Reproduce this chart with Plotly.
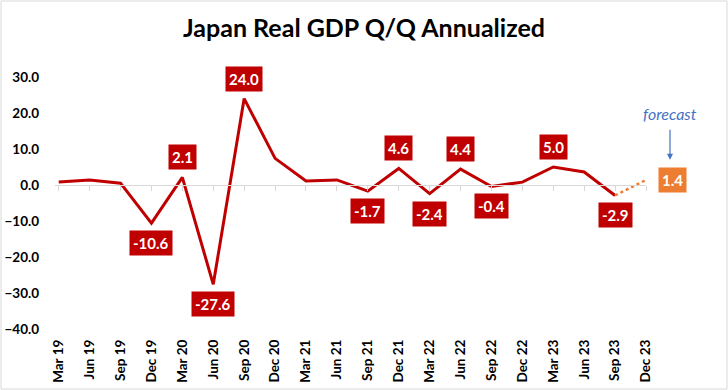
import plotly.graph_objects as go

quarters = ["Mar 19", "Jun 19", "Sep 19", "Dec 19", "Mar 20", "Jun 20", "Sep 20", "Dec 20",
            "Mar 21", "Jun 21", "Sep 21", "Dec 21", "Mar 22", "Jun 22", "Sep 22", "Dec 22",
            "Mar 23", "Jun 23", "Sep 23", "Dec 23"]
gdp_actual = [0.8, 1.4, 0.5, -10.6, 2.1, -27.6, 24.0, 7.4,
              1.1, 1.4, -1.7, 4.6, -2.4, 4.4, -0.4, 0.8,
              5.0, 3.6, -2.9]
forecast_quarters = ["Sep 23", "Dec 23"]
forecast_values = [-2.9, 1.4]
labeled_quarters = ["Dec 19", "Mar 20", "Jun 20", "Sep 20", "Sep 21", "Dec 21",
                    "Mar 22", "Jun 22", "Sep 22", "Mar 23", "Sep 23"]
y_ticks = [30, 20, 10, 0, -10, -20, -30, -40]

idx = {q: i for i, q in enumerate(quarters)}
FONT = "Lato"
RED = "#C00000"
ORANGE = "#ED7D31"
BLUE = "#4472C4"

fig = go.Figure()
fig.add_trace(go.Scatter(
    x=[idx[q] for q in quarters[:len(gdp_actual)]], y=gdp_actual,
    mode="lines", line=dict(color=RED, width=3), cliponaxis=False,
    showlegend=False, hoverinfo="skip"))
fig.add_trace(go.Scatter(
    x=[idx[q] for q in forecast_quarters], y=forecast_values,
    mode="lines", line=dict(color=ORANGE, width=2.5, dash="dot"), cliponaxis=False,
    showlegend=False, hoverinfo="skip"))
# helper trace for the zero-crossing axis
fig.add_trace(go.Scatter(x=[0, len(quarters) - 1], y=[None, None], xaxis="x2",
                         mode="lines", showlegend=False, hoverinfo="skip"))

annotations = []
for q in labeled_quarters:
    v = gdp_actual[idx[q]]
    annotations.append(dict(
        x=idx[q], y=v, xref="x", yref="y", text=f"{v:.1f}", showarrow=False,
        yshift=20 if v >= 0 else -20,
        font=dict(family=FONT, size=15, color="white", weight="bold"),
        bgcolor=RED, borderpad=3))
annotations.append(dict(
    x=idx["Dec 23"], y=forecast_values[-1], xref="x", yref="y",
    text=f"{forecast_values[-1]:.1f}", showarrow=False, xshift=26,
    font=dict(family=FONT, size=15, color="white", weight="bold"),
    bgcolor=ORANGE, borderpad=3))
annotations.append(dict(
    x=idx["Dec 23"], y=7.0, xref="x", yref="y", xshift=24,
    text="forecast", showarrow=True, ax=0, ay=-46,
    arrowhead=2, arrowsize=1, arrowwidth=1.2, arrowcolor=BLUE, startstandoff=5,
    font=dict(family=FONT, size=16, color=BLUE, style="italic")))

L, R, T, B = 55, 82, 77, 61
W, H = 728 - L - R, 390 - T - B
ymin, ymax = -40, 30

fig.update_layout(
    width=728, height=390,
    margin=dict(l=L, r=R, t=T, b=B, autoexpand=False),
    paper_bgcolor="white", plot_bgcolor="white",
    title=dict(text="<b>Japan Real GDP Q/Q Annualized</b>", x=0.5, xanchor="center",
               xref="container", y=1 - 28 / 390, yanchor="middle", yref="container",
               font=dict(family=FONT, size=25, color="black")),
    xaxis=dict(range=[-0.12, len(quarters) - 1], tickvals=list(range(len(quarters))),
               ticktext=quarters, tickangle=-90, showline=False, showgrid=False,
               zeroline=False, ticks="", ticklabelstandoff=7, automargin=False,
               tickfont=dict(family=FONT, size=13.5, color="black", weight="bold")),
    xaxis2=dict(overlaying="x", matches="x", anchor="free",
                position=(0 - ymin) / (ymax - ymin), automargin=False,
                showline=True, linecolor="#D9D9D9", linewidth=1.3,
                ticks="outside", ticklen=5, tickcolor="#D9D9D9", tickwidth=1.3,
                tickvals=list(range(len(quarters))), showticklabels=False,
                showgrid=False, zeroline=False),
    yaxis=dict(range=[ymin, ymax], tickvals=y_ticks, tickformat=".1f",
               showgrid=False, zeroline=False, showline=False, ticks="",
               ticklabelstandoff=15, automargin=False,
               tickfont=dict(family=FONT, size=13.5, color="black", weight="bold")),
    annotations=annotations,
    shapes=[dict(type="rect", xref="paper", yref="paper",
                 x0=-(L - 1) / W, x1=1 + (R - 1) / W,
                 y0=-(B - 1) / H, y1=1 + (T - 1) / H,
                 line=dict(color="#D9D9D9", width=1), fillcolor="rgba(0,0,0,0)",
                 layer="below")],
)

fig.write_html("out.html", config={"displayModeBar": False},
               post_script="document.body.style.margin='0';")
